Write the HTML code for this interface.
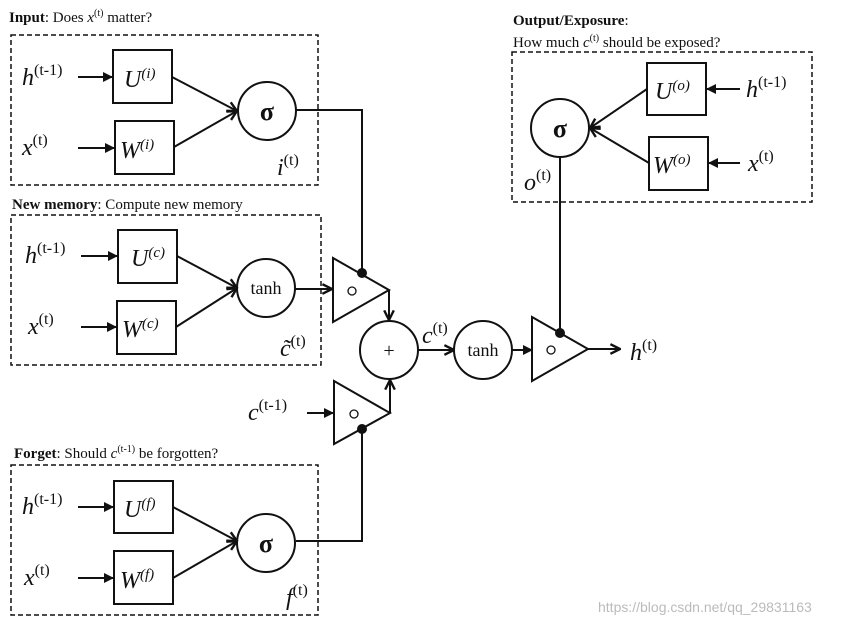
<!DOCTYPE html>
<html><head><meta charset="utf-8"><style>
body{margin:0;background:#fff}
text{font-family:"Liberation Serif","DejaVu Serif",serif;fill:#111}
.it{font-style:italic}
</style></head><body>
<svg width="853" height="625" viewBox="0 0 853 625" xmlns="http://www.w3.org/2000/svg">
<defs>
<marker id="a" viewBox="0 0 10 10" refX="9" refY="5" markerWidth="5" markerHeight="5" orient="auto"><path d="M0,0 L10,5 L0,10 Z" fill="#111"/></marker>
<marker id="v" viewBox="0 0 10 10" refX="9" refY="5" markerWidth="6" markerHeight="6" orient="auto"><path d="M1,1 L9,5 L1,9" fill="none" stroke="#111" stroke-width="2"/></marker>
</defs>
<g fill="none" stroke="#111" stroke-width="2">
<rect x="11" y="35" width="307" height="150" stroke-dasharray="5,3" stroke-width="1.5"/>
<rect x="11" y="215" width="310" height="150" stroke-dasharray="5,3" stroke-width="1.5"/>
<rect x="11" y="465" width="307" height="150" stroke-dasharray="5,3" stroke-width="1.5"/>
<rect x="512" y="52" width="300" height="150" stroke-dasharray="5,3" stroke-width="1.5"/>
<rect x="113" y="50" width="59" height="53"/><rect x="115" y="121" width="59" height="53"/>
<rect x="118" y="230" width="59" height="53"/><rect x="117" y="301" width="59" height="53"/>
<rect x="114" y="481" width="59" height="52"/><rect x="114" y="551" width="59" height="53"/>
<rect x="647" y="63" width="59" height="52"/><rect x="649" y="137" width="59" height="53"/>
<circle cx="267" cy="111" r="29"/><circle cx="266" cy="288" r="29"/><circle cx="266" cy="543" r="29"/>
<circle cx="560" cy="128" r="29"/><circle cx="389" cy="350" r="29"/><circle cx="483" cy="350" r="29"/>
<path d="M333,258 L333,322 L389,290 Z"/><path d="M334,381 L334,444 L390,413 Z"/><path d="M532,317 L532,381 L588,349 Z"/>
<g marker-end="url(#a)">
<line x1="78" y1="77" x2="112" y2="77"/><line x1="78" y1="148" x2="114" y2="148"/>
<line x1="81" y1="256" x2="117" y2="256"/><line x1="81" y1="327" x2="116" y2="327"/>
<line x1="78" y1="507" x2="113" y2="507"/><line x1="78" y1="578" x2="113" y2="578"/>
<line x1="740" y1="89" x2="707" y2="89"/><line x1="740" y1="163" x2="709" y2="163"/>
<line x1="307" y1="413" x2="333" y2="413"/><line x1="512" y1="350" x2="532" y2="350"/>
</g>
<g marker-end="url(#v)">
<line x1="172" y1="77" x2="237" y2="111"/><line x1="174" y1="147" x2="237" y2="111"/>
<line x1="177" y1="256" x2="237" y2="288"/><line x1="176" y1="327" x2="237" y2="288"/>
<line x1="173" y1="507" x2="237" y2="541"/><line x1="173" y1="578" x2="237" y2="541"/>
<line x1="647" y1="89" x2="590" y2="128"/><line x1="649" y1="163" x2="590" y2="128"/>
<line x1="295" y1="289" x2="332" y2="289"/><line x1="389" y1="290" x2="389" y2="320"/>
<line x1="390" y1="413" x2="390" y2="380"/><line x1="418" y1="350" x2="454" y2="350"/>
<line x1="588" y1="349" x2="620" y2="349"/>
</g>
<polyline points="296,110 362,110 362,273"/>
<polyline points="296,541 362,541 362,429"/>
<line x1="560" y1="157" x2="560" y2="333"/>
</g>
<g fill="none" stroke="#111" stroke-width="1.3">
<circle cx="352" cy="291" r="4"/><circle cx="354" cy="414" r="4"/><circle cx="551" cy="350" r="4"/>
</g>
<g fill="#111"><circle cx="362" cy="273" r="5"/><circle cx="362" cy="429" r="5"/><circle cx="560" cy="333" r="5"/></g>
<g font-size="15">
<text x="9" y="22"><tspan font-weight="bold">Input</tspan>: Does <tspan class="it">x</tspan><tspan font-size="10" dy="-6">(t)</tspan><tspan dy="6"> matter?</tspan></text>
<text x="12" y="209"><tspan font-weight="bold">New memory</tspan>: Compute new memory</text>
<text x="14" y="458"><tspan font-weight="bold">Forget</tspan>: Should <tspan class="it">c</tspan><tspan font-size="10" dy="-6">(t-1)</tspan><tspan dy="6"> be forgotten?</tspan></text>
<text x="513" y="25"><tspan font-weight="bold">Output/Exposure</tspan>:</text>
<text x="513" y="47">How much <tspan class="it">c</tspan><tspan font-size="10" dy="-6">(t)</tspan><tspan dy="6"> should be exposed?</tspan></text>
<text x="598" y="612" style="fill:#bbb;font-family:'Liberation Sans',sans-serif" font-size="14">https://blog.csdn.net/qq_29831163</text>
</g>
<g font-size="24">
<text x="22" y="85" class="it">h<tspan font-style="normal" font-size="16" dy="-10">(t-1)</tspan></text>
<text x="22" y="155" class="it">x<tspan font-style="normal" font-size="16" dy="-10">(t)</tspan></text>
<text x="25" y="263" class="it">h<tspan font-style="normal" font-size="16" dy="-10">(t-1)</tspan></text>
<text x="28" y="334" class="it">x<tspan font-style="normal" font-size="16" dy="-10">(t)</tspan></text>
<text x="22" y="514" class="it">h<tspan font-style="normal" font-size="16" dy="-10">(t-1)</tspan></text>
<text x="24" y="585" class="it">x<tspan font-style="normal" font-size="16" dy="-10">(t)</tspan></text>
<text x="746" y="97" class="it">h<tspan font-style="normal" font-size="16" dy="-10">(t-1)</tspan></text>
<text x="748" y="171" class="it">x<tspan font-style="normal" font-size="16" dy="-10">(t)</tspan></text>
<text x="630" y="360" class="it">h<tspan font-style="normal" font-size="16" dy="-10">(t)</tspan></text>
<text x="248" y="420" class="it">c<tspan font-style="normal" font-size="16" dy="-10">(t-1)</tspan></text>
<text x="422" y="343" class="it">c<tspan font-style="normal" font-size="16" dy="-10">(t)</tspan></text>
<text x="277" y="175" class="it">i<tspan font-style="normal" font-size="16" dy="-10">(t)</tspan></text>
<text x="280" y="356" class="it">c̃<tspan font-style="normal" font-size="16" dy="-10">(t)</tspan></text>
<text x="286" y="605" class="it">f<tspan font-style="normal" font-size="16" dy="-10">(t)</tspan></text>
<text x="524" y="190" class="it">o<tspan font-style="normal" font-size="16" dy="-10">(t)</tspan></text>
<text x="124" y="87" class="it">U<tspan font-size="15" dy="-9">(i)</tspan></text>
<text x="120" y="158" class="it">W<tspan font-size="15" dy="-9">(i)</tspan></text>
<text x="131" y="266" class="it">U<tspan font-size="15" dy="-9">(c)</tspan></text>
<text x="122" y="337" class="it">W<tspan font-size="15" dy="-9">(c)</tspan></text>
<text x="124" y="517" class="it">U<tspan font-size="15" dy="-9">(f)</tspan></text>
<text x="120" y="588" class="it">W<tspan font-size="15" dy="-9">(f)</tspan></text>
<text x="655" y="99" class="it">U<tspan font-size="15" dy="-9">(o)</tspan></text>
<text x="653" y="173" class="it">W<tspan font-size="15" dy="-9">(o)</tspan></text>
</g>
<g font-size="26" font-weight="bold" text-anchor="middle">
<text x="267" y="120">σ</text><text x="266" y="552">σ</text><text x="560" y="137">σ</text>
</g>
<g font-size="18" text-anchor="middle">
<text x="266" y="294">tanh</text><text x="483" y="356">tanh</text>
<text x="389" y="357" font-size="20">+</text>
</g>
</svg>
</body></html>
